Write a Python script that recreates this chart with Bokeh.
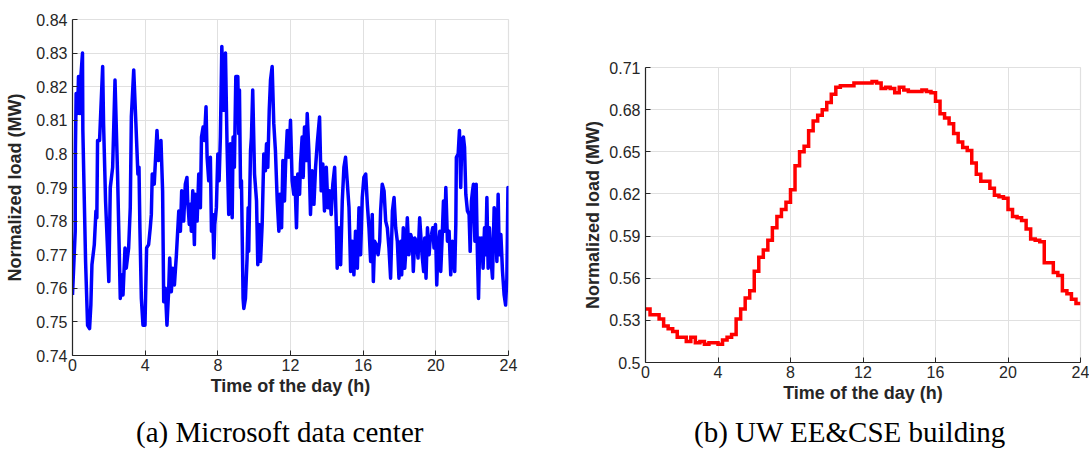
import numpy as np
from bokeh.plotting import figure
from bokeh.layouts import column
from bokeh.models import Range1d, FixedTicker, Div
from bokeh.embed import file_html
from bokeh.resources import INLINE

# ---------------- data: (a) Microsoft data center ----------------
ms_hours = [
    0.00, 0.15, 0.16, 0.20, 0.28, 0.33, 0.42, 0.46, 0.55, 0.57, 0.65, 0.72, 0.83, 0.94,
    1.01, 1.07, 1.20, 1.29, 1.34, 1.38, 1.49, 1.66, 1.71, 1.82, 1.91, 2.00, 2.08, 2.21,
    2.34, 2.48, 2.63, 2.74, 2.78, 2.89, 2.96, 3.09, 3.18, 3.24, 3.37, 3.49, 3.60, 3.66,
    3.71, 3.79, 3.88, 3.99, 4.08, 4.19, 4.28, 4.34, 4.39, 4.50, 4.65, 4.74, 4.87, 4.96,
    5.02, 5.11, 5.20, 5.29, 5.35, 5.44, 5.52, 5.61, 5.72, 5.85, 5.94, 6.01, 6.12, 6.21,
    6.30, 6.34, 6.43, 6.49, 6.54, 6.62, 6.71, 6.76, 6.86, 6.95, 7.04, 7.10, 7.19, 7.26,
    7.35, 7.41, 7.50, 7.59, 7.65, 7.72, 7.78, 7.83, 7.92, 8.00, 8.07, 8.14, 8.22, 8.33,
    8.42, 8.51, 8.60, 8.69, 8.79, 8.84, 8.91, 8.99, 9.10, 9.15, 9.19, 9.25, 9.30, 9.39,
    9.43, 9.52, 9.61, 9.67, 9.70, 9.80, 9.85, 9.92, 10.02, 10.13, 10.20, 10.27, 10.35,
    10.44, 10.53, 10.62, 10.68, 10.75, 10.83, 10.90, 10.99, 11.08, 11.17, 11.27, 11.36,
    11.41, 11.51, 11.58, 11.67, 11.73, 11.82, 11.91, 12.00,
    12.09, 12.18, 12.24, 12.33, 12.40, 12.50, 12.55, 12.64, 12.70, 12.77, 12.86, 12.92,
    13.01, 13.10, 13.19, 13.29, 13.38, 13.47, 13.60, 13.69, 13.78, 13.87, 13.97, 14.06,
    14.15, 14.24, 14.33, 14.43, 14.52, 14.57, 14.67, 14.76, 14.85, 14.94, 15.03, 15.12,
    15.22, 15.31, 15.40, 15.49, 15.58, 15.68, 15.77, 15.86, 15.95, 16.04, 16.14, 16.23,
    16.32, 16.41, 16.50, 16.56, 16.63, 16.72, 16.82, 16.91, 16.96, 17.05, 17.15, 17.24,
    17.33, 17.42, 17.51, 17.61, 17.70, 17.79, 17.88, 17.97,
    18.07, 18.12, 18.21, 18.29, 18.38, 18.43, 18.52, 18.62, 18.71, 18.76, 18.84, 18.93,
    19.02, 19.11, 19.17, 19.24, 19.33, 19.39, 19.46, 19.54, 19.63, 19.68, 19.76, 19.83,
    19.90, 19.98, 20.05, 20.12, 20.22, 20.27, 20.34, 20.42, 20.49, 20.55, 20.64, 20.73,
    20.82, 20.91, 21.04, 21.10, 21.13, 21.23, 21.30, 21.37, 21.43, 21.52, 21.58, 21.65,
    21.74, 21.83, 21.89, 21.96, 22.02, 22.07, 22.15, 22.22, 22.29, 22.35, 22.42, 22.48,
    22.53, 22.60, 22.68, 22.75, 22.81, 22.88, 22.95, 23.03, 23.12, 23.21, 23.28, 23.36,
    23.43, 23.49, 23.58, 23.67, 23.76, 23.84, 23.91, 23.97, 24.00,
]
ms_load = [
    0.758, 0.777, 0.801, 0.818, 0.812, 0.823, 0.812, 0.823, 0.830, 0.807, 0.786, 0.768, 0.749, 0.748,
    0.755, 0.767, 0.773, 0.783, 0.781, 0.804, 0.804, 0.826, 0.809, 0.786, 0.774, 0.762, 0.790, 0.796,
    0.822, 0.794, 0.757, 0.764, 0.758, 0.772, 0.766, 0.772, 0.784, 0.811, 0.825, 0.809, 0.794, 0.796,
    0.778, 0.757, 0.749, 0.749, 0.772, 0.773, 0.778, 0.782, 0.794, 0.791, 0.807, 0.798, 0.804, 0.789,
    0.756, 0.760, 0.749, 0.759, 0.769, 0.759, 0.766, 0.761, 0.770, 0.783, 0.777, 0.789, 0.780, 0.791,
    0.793, 0.786, 0.779, 0.785, 0.777, 0.789, 0.773, 0.788, 0.780, 0.794, 0.784, 0.805, 0.808, 0.804,
    0.814, 0.799, 0.792, 0.799, 0.777, 0.782, 0.769, 0.779, 0.784, 0.800, 0.792, 0.805, 0.832, 0.813,
    0.830, 0.802, 0.782, 0.803, 0.781, 0.805, 0.796, 0.823, 0.823, 0.806, 0.819, 0.790, 0.792, 0.757,
    0.754, 0.757, 0.769, 0.784, 0.771, 0.801, 0.805, 0.819, 0.794, 0.786, 0.767, 0.779, 0.768,
    0.779, 0.800, 0.795, 0.803, 0.796, 0.813, 0.822, 0.826, 0.809, 0.801, 0.786, 0.777,
    0.788, 0.778, 0.798, 0.786, 0.797, 0.807, 0.799, 0.810,
    0.792, 0.788, 0.793, 0.778, 0.794, 0.788, 0.797, 0.805, 0.793, 0.808, 0.798, 0.812,
    0.801, 0.782, 0.795, 0.785, 0.796, 0.803, 0.811, 0.789, 0.797, 0.783, 0.796, 0.784,
    0.789, 0.782, 0.791, 0.796, 0.779, 0.766, 0.778, 0.767, 0.786, 0.796, 0.799, 0.792,
    0.784, 0.765, 0.774, 0.764, 0.777, 0.766, 0.784, 0.770, 0.787, 0.793, 0.794, 0.785,
    0.778, 0.768, 0.782, 0.762, 0.774, 0.773, 0.770, 0.774, 0.783, 0.791, 0.789, 0.780,
    0.778, 0.772, 0.763, 0.783, 0.787, 0.778, 0.774, 0.763,
    0.774, 0.764, 0.778, 0.766, 0.774, 0.781, 0.770, 0.776, 0.774, 0.765, 0.775, 0.774,
    0.769, 0.781, 0.776, 0.770, 0.765, 0.775, 0.763, 0.778, 0.770, 0.774, 0.776, 0.778,
    0.772, 0.779, 0.761, 0.772, 0.777, 0.765, 0.774, 0.786, 0.777, 0.790, 0.774, 0.777,
    0.764, 0.774, 0.765, 0.779, 0.799, 0.800, 0.807, 0.790, 0.804, 0.805, 0.802, 0.788,
    0.783, 0.782, 0.771, 0.786, 0.789, 0.791, 0.774, 0.791, 0.770, 0.757, 0.775, 0.769,
    0.775, 0.766, 0.778, 0.770, 0.787, 0.766, 0.778, 0.769, 0.763, 0.784, 0.782, 0.768,
    0.788, 0.770, 0.776, 0.765, 0.758, 0.755, 0.763, 0.790, 0.782,
]

# ---------------- data: (b) UW EE&CSE building (15-minute steps) ----------------
uw_step = 0.25
uw_load = [
    0.538, 0.534, 0.534, 0.531, 0.526, 0.524, 0.522, 0.518, 0.518, 0.515, 0.518, 0.514,
    0.515, 0.513, 0.514, 0.514, 0.513, 0.516, 0.518, 0.520, 0.531, 0.538, 0.546, 0.551,
    0.565, 0.575, 0.580, 0.587, 0.596, 0.604, 0.609, 0.614, 0.623, 0.640, 0.650, 0.654,
    0.665, 0.672, 0.676, 0.680, 0.685, 0.691, 0.696, 0.697, 0.697, 0.697, 0.699, 0.699,
    0.699, 0.699, 0.700, 0.699, 0.695, 0.696, 0.695, 0.692, 0.696, 0.694, 0.693, 0.693,
    0.693, 0.694, 0.693, 0.692, 0.686, 0.677, 0.674, 0.670, 0.663, 0.657, 0.653, 0.651,
    0.642, 0.634, 0.629, 0.629, 0.624, 0.619, 0.618, 0.617, 0.609, 0.604, 0.603, 0.601,
    0.595, 0.588, 0.587, 0.586, 0.571, 0.571, 0.564, 0.562, 0.551, 0.549, 0.545, 0.542,
]

x_ticks = [0, 4, 8, 12, 16, 20, 24]
ms_yticks = [0.74, 0.75, 0.76, 0.77, 0.78, 0.79, 0.80, 0.81, 0.82, 0.83, 0.84]
ms_ylabels = ["0.74", "0.75", "0.76", "0.77", "0.78", "0.79", "0.8", "0.81", "0.82", "0.83", "0.84"]
uw_yticks = [0.50, 0.53, 0.56, 0.59, 0.62, 0.65, 0.68, 0.71]
uw_ylabels = ["0.5", "0.53", "0.56", "0.59", "0.62", "0.65", "0.68", "0.71"]

x_label = "Time of the day (h)"
y_label = "Normalized load (MW)"
caption_a = "(a) Microsoft data center"
caption_b = "(b) UW EE&CSE building"

TICK_FONT = "Liberation Sans"
AX_COL = "#262626"
GRID_COL = "#e0e0e0"
PLOT_H = 414
CAP_H = 451 - PLOT_H


def style(p, yticks, ylabels, ylabel_standoff):
    p.xaxis.ticker = FixedTicker(ticks=x_ticks)
    p.yaxis.ticker = FixedTicker(ticks=yticks)
    p.yaxis.major_label_overrides = dict(zip(yticks, ylabels))
    for ax in (p.xaxis[0], p.yaxis[0]):
        ax.major_tick_in = 5
        ax.major_tick_out = 0
        ax.minor_tick_line_color = None
        ax.axis_line_color = AX_COL
        ax.axis_line_width = 1.2
        ax.major_tick_line_color = AX_COL
        ax.major_label_text_font = TICK_FONT
        ax.major_label_text_font_size = "16px"
        ax.major_label_text_color = AX_COL
        ax.axis_label_text_font = TICK_FONT
        ax.axis_label_text_font_size = "18px"
        ax.axis_label_text_font_style = "bold"
        ax.axis_label_text_color = AX_COL
    p.xaxis.major_label_standoff = 3
    p.xaxis.axis_label_standoff = 2
    p.yaxis.major_label_standoff = 5
    p.yaxis.axis_label_standoff = ylabel_standoff
    p.xaxis.axis_label = x_label
    p.yaxis.axis_label = y_label
    p.xgrid.ticker = FixedTicker(ticks=x_ticks)
    p.ygrid.ticker = FixedTicker(ticks=yticks)
    for g in (p.xgrid[0], p.ygrid[0]):
        g.grid_line_color = GRID_COL
        g.grid_line_width = 1
    p.outline_line_color = GRID_COL
    p.outline_line_width = 1.2
    p.background_fill_color = "white"
    p.border_fill_color = "white"


def caption(text, width, left):
    return Div(text=text, render_as_text=True, width=width, height=CAP_H, margin=0,
               styles={"font-family": "'Liberation Serif', serif", "font-size": "29px",
                       "line-height": "%dpx" % CAP_H, "color": "black",
                       "padding-left": "%dpx" % left, "box-sizing": "border-box",
                       "white-space": "nowrap", "overflow": "hidden"})


# ---------- left panel ----------
p1 = figure(width=545, height=PLOT_H, output_backend="svg", toolbar_location=None,
            x_range=Range1d(0, 24), y_range=Range1d(0.74, 0.84),
            min_border_left=72, min_border_right=37, min_border_top=19,
            min_border_bottom=PLOT_H - 355)
style(p1, ms_yticks, ms_ylabels, 8)
p1.line(ms_hours, ms_load, line_color="#0000ff", line_width=3.5, line_join="round")
left_panel = column(p1, caption(caption_a, 545, 136), spacing=0, width=545, height=451)

# ---------- right panel ----------
uw_x = []
uw_y = []
for i, v in enumerate(uw_load):
    uw_x += [i * uw_step, (i + 1) * uw_step]
    uw_y += [v, v]

p2 = figure(width=544, height=PLOT_H, output_backend="svg", toolbar_location=None,
            x_range=Range1d(0, 24), y_range=Range1d(0.50, 0.71),
            min_border_left=100, min_border_right=9, min_border_top=67,
            min_border_bottom=PLOT_H - 362)
style(p2, uw_yticks, uw_ylabels, 3)
p2.line(uw_x, uw_y, line_color="#ff0000", line_width=3.5, line_join="miter")
right_panel = column(p2, caption(caption_b, 544, 149), spacing=0, width=544, height=451)

html = file_html([left_panel, right_panel], INLINE)
html = html.replace("</head>",
                    "<style>html,body{margin:0;padding:0;}body{display:flex;flex-direction:row;"
                    "align-items:flex-start;}</style></head>", 1)
open("out.html", "w").write(html)
